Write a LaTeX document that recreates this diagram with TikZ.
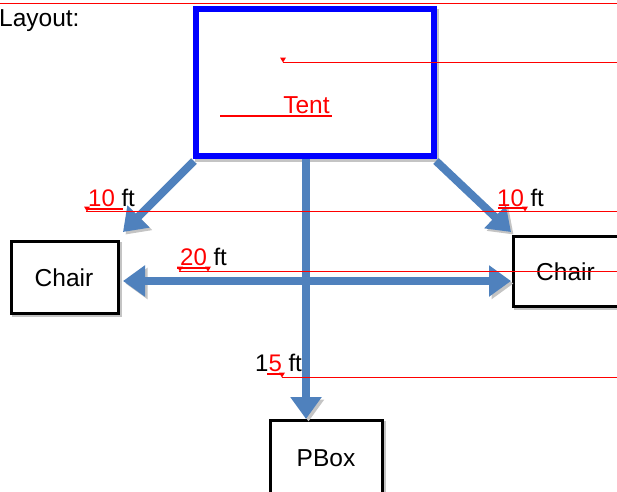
\documentclass[tikz,border=0pt]{standalone}
\usepackage{fontspec}
\setmainfont{Liberation Sans}
\usetikzlibrary{arrows.meta,calc}
\definecolor{arrowblue}{HTML}{4F81BD}
\definecolor{shadowgray}{HTML}{C4C4C4}
\definecolor{tentblue}{HTML}{0000FF}
\definecolor{trackred}{HTML}{FF0000}
\begin{document}
\begin{tikzpicture}[x=1pt,y=-1pt,
  bigtext/.style={font=\fontsize{24.5}{29}\selectfont, inner sep=0pt},
  smalltext/.style={font=\fontsize{24}{28}\selectfont, inner sep=0pt},
  tentbox/.style={draw=tentblue, line width=6pt, fill=white, minimum width=238pt, minimum height=147pt,
    preaction={draw=shadowgray, line width=6pt, transform canvas={shift={(2pt,-3pt)}}}},
  boxnode/.style={draw=black, line width=3pt, fill=white, bigtext,
    preaction={draw=shadowgray, line width=3pt, transform canvas={shift={(2pt,-2pt)}}}},
  bluearrow/.style={draw=arrowblue, line width=8pt, -{Triangle[width=30pt,length=22pt]},
    preaction={draw=shadowgray, transform canvas={shift={(2.5pt,-2.5pt)}}}},
  trackline/.style={draw=trackred, line width=1pt},
  uline/.style={draw=trackred, line width=1.5pt},
  tmark/.pic={\fill[trackred] (-3,-5) -- (3,-5) -- (0,0) -- cycle;}
]
\useasboundingbox (0,0) rectangle (617,491);
\fill[white] (0,0) rectangle (617,491);

% nodes
\node[tentbox] (tent) at (315,82.5) {};
\node[boxnode, minimum width=107pt, minimum height=72pt] (lchair) at (65,277.5) {\kern-2pt Chair};
\node[boxnode, minimum width=110pt, minimum height=70pt] (rchair) at (568.5,271.5) {\kern-6pt Chair};
\node[boxnode, minimum width=112pt, minimum height=75pt] (pbox) at (326,458) {PBox};

\coordinate (vx) at (306,0);
\coordinate (hy) at (0,281);

% arrows
\draw[bluearrow] ($(tent.south west)+(1,2)$) -- ($(lchair.north east)+(3,-8)$);
\draw[bluearrow] ($(tent.south east)+(-1,2)$) -- ($(rchair.north west)+(-1,-3)$);
\draw[bluearrow] (tent.south -| vx) -- (pbox.north -| vx);
\draw[bluearrow, {Triangle[width=30pt,length=22pt]}-{Triangle[width=30pt,length=22pt]}]
  ($(lchair.east |- hy)+(3,0)$) -- ($(rchair.west |- hy)+(-1,0)$);

% texts
\node[bigtext, anchor=base west] (layout) at (-1,26) {Layout:};
\node[bigtext, text=trackred, anchor=base] (tentlabel) at (306.5,113) {Tent};
\node[smalltext, anchor=base west] (ten1) at (88,206) {\textcolor{trackred}{10} ft};
\node[smalltext, anchor=base west] (ten2) at (497,206) {\textcolor{trackred}{10} ft};
\node[smalltext, anchor=base west] (twenty) at (180,265) {\textcolor{trackred}{20} ft};
\node[smalltext, anchor=base west] (fifteen) at (255,371) {1\textcolor{trackred}{5} ft};

% track-change lines
\draw[trackline] (0,3.5) -- (617,3.5);
\draw[trackline] (283,62.5) -- (617,62.5);
\pic at (283,62.5) {tmark};
\draw[uline] (220,116) -- (332,116);

\draw[uline] (86,209) -- (123,209);
\draw[trackline] (86,211.5) -- (617,211.5);
\pic at (87,211.5) {tmark};
\draw[uline] (498,208) -- (525,208);
\pic at (525,211.5) {tmark};

\draw[uline] (177,268) -- (210,268);
\draw[trackline] (179,271.5) -- (617,271.5);
\pic at (180,271.5) {tmark};
\pic at (208,271.5) {tmark};

\draw[uline] (267,374) -- (283,374);
\draw[trackline] (282,377.5) -- (617,377.5);
\pic at (282,377.5) {tmark};
\end{tikzpicture}
\end{document}
